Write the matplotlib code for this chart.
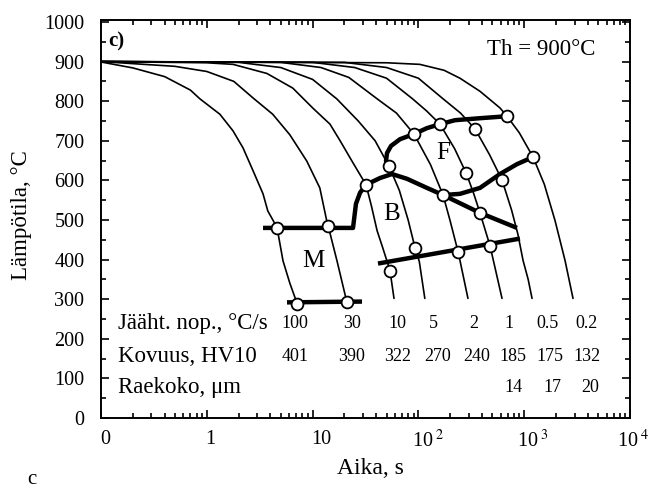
import matplotlib
matplotlib.use("Agg")
import matplotlib.pyplot as plt
from matplotlib.ticker import FixedLocator, LogLocator, MultipleLocator, NullFormatter, FixedFormatter
import matplotlib.transforms as mtransforms

plt.rcParams['font.family'] = ['Liberation Serif', 'DejaVu Serif']
plt.rcParams['mathtext.fontset'] = 'stix'

# ---------------- data ----------------
# cooling curves (time s, temperature C), labelled by cooling rate C/s
t_100 = [0.1, 0.2, 0.4, 0.7, 0.86, 1.33, 1.77, 2.2, 2.74, 3.4, 3.77, 4.61, 5.25, 6.1, 7.12]
T_100 = [899, 884, 862, 828, 806, 767, 725, 682, 624, 566, 523, 481, 397, 340, 290]
t_30 = [0.1, 0.5, 1.0, 1.8, 2.74, 4.2, 6.1, 8.8, 11.7, 13.6, 14.0, 17.0, 21.1]
T_30 = [900, 888, 875, 850, 808, 767, 715, 649, 581, 498, 486, 397, 292]
t_10 = [0.1, 1.0, 1.77, 3.7, 6.5, 10.1, 14.6, 18.2, 24.0, 32.0, 36.0, 40.7, 46.0, 53.9, 58.8]
T_10 = [900, 897, 893, 870, 833, 782, 742, 700, 645, 589, 535, 473, 430, 372, 302]
t_5 = [0.1, 2, 5, 10, 16.9, 27, 39, 52.7, 66, 80, 92.9, 102, 115]
T_5 = [900, 898, 885, 855, 806, 750, 700, 636, 575, 500, 430, 395, 302]
t_2 = [0.1, 5, 12, 22, 40.7, 62, 90.8, 130, 171, 199, 237, 247, 294]
T_2 = [900, 898, 885, 860, 806, 770, 717, 640, 563, 499, 420, 398, 302]
t_1 = [0.1, 10, 25, 50, 88, 120, 160, 220, 282, 330, 382, 475, 540, 617]
T_1 = [900, 898, 885, 858, 806, 775, 742, 680, 619, 570, 518, 435, 370, 302]
t_05 = [0.1, 20, 50, 100, 171, 250, 343, 470, 617, 760, 870, 975, 1090, 1186]
T_05 = [900, 898, 885, 858, 806, 770, 730, 665, 601, 525, 465, 398, 350, 302]
t_02 = [0.1, 50, 103, 175, 247, 382, 590, 688, 900, 1212, 1550, 1954, 2431, 2893]
T_02 = [900, 897, 893, 878, 858, 825, 783, 762, 720, 659, 590, 499, 398, 302]

# transformation boundaries
ms_t = [3.4, 24.1, 25.7, 28.1, 32.0]
ms_T = [480, 480, 541, 569, 589]
bs_t = [32.0, 43.4, 56.3, 78.0, 120.5, 171, 247, 382, 590, 855, 1212]
bs_T = [589, 606, 616, 604, 581, 563, 566, 581, 616, 641, 659]
fs_t = [56.3, 49.4, 50.5, 55.1, 67.0, 90.8, 120.5, 160, 222, 382, 688]
fs_T = [616, 649, 669, 687, 704, 717, 732, 742, 752, 757, 762]
pf_t = [171, 382, 855]
pf_T = [563, 518, 480]
bf_t = [41.5, 912]
bf_T = [390, 453]
mf_t = [5.73, 29.3]
mf_T = [292, 294]

# measured points (open circles)
pt_t = [4.61, 14.0, 7.12, 21.1, 32.0, 52.7, 90.8, 160, 688, 343, 282, 617, 1212,
        171, 382, 53.9, 92.9, 237, 475]
pt_T = [480, 486, 289, 292, 589, 636, 717, 742, 762, 730, 619, 601, 659,
        563, 518, 372, 430, 420, 435]

# table
rates = ['100', '30', '10', '5', '2', '1', '0.5', '0.2']
hardness = ['401', '390', '322', '270', '240', '185', '175', '132']
grain = ['14', '17', '20']
row_labels = ['Jääht. nop., °C/s', 'Kovuus, HV10', 'Raekoko, μm']

x_ticks = [0.1, 1, 10, 100, 1000, 10000]
x_ticklabels = ['0', '1', '10', r'10$^{\;2}$', r'10$^{\;3}$', r'10$^{\;4}$']
y_ticks = [0, 100, 200, 300, 400, 500, 600, 700, 800, 900, 1000]

# ---------------- layout ----------------
rate_x = [6.8, 23.6, 63, 140, 335, 720, 1650, 3880]
hard_x = [6.8, 23.6, 64, 153, 358, 784, 1754, 3926]
grain_x = [784, 1833, 4189]
row_T = [239, 156, 78]
xlabel_shift_px = [4, 3, 9, 10, 8, 3]

fig = plt.figure(figsize=(6.57, 4.88), dpi=100)
ax = fig.add_axes([101/657, 1-418/488, 529/657, 398/488])
ax.set_xscale('log')
ax.set_xlim(0.1, 10000)
ax.set_ylim(0, 1005)

curves = [(t_100, T_100), (t_30, T_30), (t_10, T_10), (t_5, T_5),
          (t_2, T_2), (t_1, T_1), (t_05, T_05), (t_02, T_02)]
for tt, TT in curves:
    ax.plot(tt, TT, color='black', lw=1.2, zorder=2, solid_capstyle='round', solid_joinstyle='round')

for tt, TT in [(ms_t, ms_T), (bs_t, bs_T), (fs_t, fs_T), (pf_t, pf_T), (bf_t, bf_T), (mf_t, mf_T)]:
    ax.plot(tt, TT, color='black', lw=3.2, zorder=3, solid_capstyle='butt', solid_joinstyle='round')

ax.plot(pt_t, pt_T, 'o', ms=8.5, mfc='white', mec='black', mew=1.3, zorder=5, ls='none')

# ticks
ax.xaxis.set_major_locator(FixedLocator(x_ticks))
ax.xaxis.set_major_formatter(FixedFormatter(x_ticklabels))
ax.xaxis.set_minor_locator(LogLocator(base=10, subs=[2, 3, 4, 5, 6, 7, 8, 9], numticks=20))
ax.xaxis.set_minor_formatter(NullFormatter())
ax.yaxis.set_major_locator(FixedLocator(y_ticks))
ax.yaxis.set_minor_locator(MultipleLocator(50))
ax.tick_params(which='both', direction='in', top=True, right=True, width=1.2, colors='black')
ax.tick_params(which='major', length=6)
ax.tick_params(which='minor', length=3.5)
ax.tick_params(axis='y', labelsize=14.5, pad=12)
ax.tick_params(axis='x', labelsize=14.5, pad=9)
for lab, sh in zip(ax.get_xticklabels(), xlabel_shift_px):
    lab.set_transform(lab.get_transform() + mtransforms.ScaledTranslation(sh / 100, 0, fig.dpi_scale_trans))
for s in ax.spines.values():
    s.set_linewidth(1.4)

# texts
fig.text(22/657, 1-215/488, 'Lämpötila, °C', rotation=90, ha='center', va='center', fontsize=16.5)
fig.text(370/657, 1-469/488, 'Aika, s', ha='center', va='center', fontsize=17)
fig.text(32/657, 1-479/488, 'c', ha='center', va='center', fontsize=15)
ax.text(0.118, 951, 'c)', fontsize=15, fontweight='bold', ha='left', va='center')
ax.text(4670, 931, 'Th = 900°C', fontsize=16.5, ha='right', va='center')
ax.text(171, 669, 'F', fontsize=18, ha='center', va='center')
ax.text(56.3, 516, 'B', fontsize=18, ha='center', va='center')
ax.text(10.1, 397, 'M', fontsize=18, ha='center', va='center')

for lab, T in zip(row_labels, row_T):
    ax.text(0.145, T, lab, fontsize=16.5, ha='left', va='center')
for lab, x in zip(rates, rate_x):
    ax.text(x, row_T[0], lab, fontsize=13, ha='center', va='center')
for lab, x in zip(hardness, hard_x):
    ax.text(x, row_T[1], lab, fontsize=13, ha='center', va='center')
for lab, x in zip(grain, grain_x):
    ax.text(x, row_T[2], lab, fontsize=13, ha='center', va='center')

fig.savefig('out.png', dpi=100)
